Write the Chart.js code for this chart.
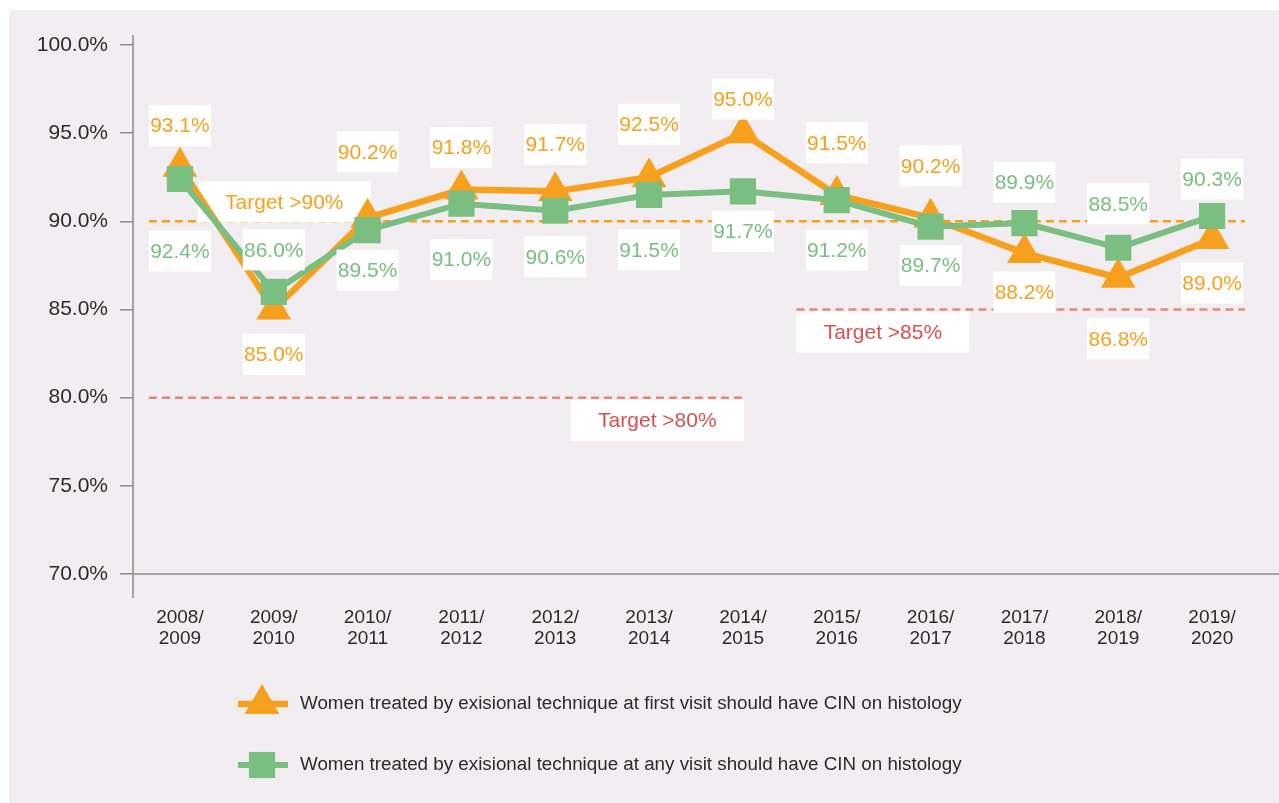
<!DOCTYPE html>
<html>
<head>
<meta charset="utf-8">
<title>CIN on histology</title>
<script src="https://cdn.jsdelivr.net/npm/chart.js"></script>
<style>
  html, body { margin: 0; padding: 0; background: #ffffff; }
  #panel { position: absolute; left: 9px; top: 10px; right: 0; bottom: 0; background: #f2edf0; }
  #wrap { position: absolute; left: 0; top: 0; width: 1279px; height: 803px; }
</style>
</head>
<body>
<div id="panel"></div>
<div id="wrap"><canvas id="cinChart" width="1279" height="803"></canvas></div>
<script>
// Data
const categories = [
  ['2008/', '2009'], ['2009/', '2010'], ['2010/', '2011'], ['2011/', '2012'],
  ['2012/', '2013'], ['2013/', '2014'], ['2014/', '2015'], ['2015/', '2016'],
  ['2016/', '2017'], ['2017/', '2018'], ['2018/', '2019'], ['2019/', '2020']
];
const firstVisit = [93.1, 85.0, 90.2, 91.8, 91.7, 92.5, 95.0, 91.5, 90.2, 88.2, 86.8, 89.0];
const anyVisit = [92.4, 86.0, 89.5, 91.0, 90.6, 91.5, 91.7, 91.2, 89.7, 89.9, 88.5, 90.3];
const seriesNames = [
  'Women treated by exisional technique at first visit should have CIN on histology',
  'Women treated by exisional technique at any visit should have CIN on histology'
];
const yMin = 70;
const yMax = 100;
const yStep = 5;
const targetValues = [90, 80, 85];
const targetLabels = ['Target >90%', 'Target >80%', 'Target >85%'];

const ORANGE = '#f7a01d';
const GREEN = '#7bbe81';
const RED_LINE = '#e5877a';
const RED_TEXT = '#d5524f';
const TEXT = '#2b2b2b';
const AXIS = '#8c8c8c';
const FONT = '"Liberation Sans", Arial, sans-serif';

// label offsets (px) from each point, set by eye
const labelOffsets = [
  [-41, 45, -66, -42, -47, -53, -34, -52, -52, 39, 61, 44],
  [72, -42, 40, 56, 46, 55, 40, 50, 39, -41, -44, -37]
];

// target line layout in category units
const targetLayout = [
  { line: ORANGE, text: ORANGE, from: -0.33, to: 11.35, boxAt: 0.19, align: 'left', above: true },
  { line: RED_LINE, text: RED_TEXT, from: -0.33, to: 6.01, boxAt: 6.01, align: 'right', above: false },
  { line: RED_LINE, text: RED_TEXT, from: 6.57, to: 11.35, boxAt: 6.57, align: 'left', above: false }
];

function drawMarker(ctx, style, x, y, r, color) {
  ctx.fillStyle = color;
  ctx.beginPath();
  if (style === 'triangle') {
    for (let k = 0; k < 3; k++) {
      const a = k * 2 * Math.PI / 3;
      const px = x + Math.sin(a) * r;
      const py = y - Math.cos(a) * r;
      if (k === 0) ctx.moveTo(px, py); else ctx.lineTo(px, py);
    }
    ctx.closePath();
  } else {
    const s = r * Math.SQRT1_2;
    ctx.rect(x - s, y - s, 2 * s, 2 * s);
  }
  ctx.fill();
}

const decorPlugin = {
  id: 'decor',
  beforeDatasetsDraw(chart) {
    const { ctx, chartArea, scales } = chart;
    const xs = scales.x, ys = scales.y;
    ctx.save();
    // axis lines
    ctx.strokeStyle = AXIS;
    ctx.lineWidth = 1.5;
    ctx.beginPath();
    ctx.moveTo(chartArea.left, chartArea.top - 10);
    ctx.lineTo(chartArea.left, chartArea.bottom + 24);
    ctx.moveTo(chartArea.left, chartArea.bottom);
    ctx.lineTo(chart.width, chartArea.bottom);
    ctx.stroke();

    // target lines and boxes
    targetValues.forEach((v, i) => {
      const t = targetLayout[i];
      const y = ys.getPixelForValue(v);
      ctx.strokeStyle = t.line;
      ctx.lineWidth = 2.5;
      ctx.setLineDash([8, 5]);
      ctx.beginPath();
      ctx.moveTo(xs.getPixelForValue(t.from), y);
      ctx.lineTo(xs.getPixelForValue(t.to), y);
      ctx.stroke();
      ctx.setLineDash([]);

      const w = 173, h = 41;
      const ax = xs.getPixelForValue(t.boxAt);
      const bx = t.align === 'left' ? ax : ax - w;
      const by = t.above ? y - h + 1 : y + 2;
      ctx.fillStyle = '#ffffff';
      ctx.fillRect(bx, by, w, h);
      ctx.fillStyle = t.text;
      ctx.font = '21px ' + FONT;
      ctx.textAlign = 'center';
      ctx.textBaseline = 'middle';
      ctx.fillText(targetLabels[i], bx + w / 2, by + h / 2 + 1);
    });
    ctx.restore();
  },
  afterDatasetsDraw(chart) {
    const { ctx, scales } = chart;
    const ys = scales.y;
    ctx.save();
    ctx.font = '21px ' + FONT;
    ctx.textAlign = 'center';
    ctx.textBaseline = 'middle';
    chart.data.datasets.forEach((ds, di) => {
      const meta = chart.getDatasetMeta(di);
      ds.data.forEach((v, i) => {
        const x = meta.data[i].x;
        const y = ys.getPixelForValue(v) + labelOffsets[di][i];
        const w = 62, h = 41;
        ctx.fillStyle = '#ffffff';
        ctx.fillRect(x - w / 2, y - h / 2, w, h);
        ctx.fillStyle = ds.borderColor;
        ctx.fillText(v.toFixed(1) + '%', x, y + 1);
      });
    });
    ctx.restore();
  },
  afterDraw(chart) {
    const { ctx } = chart;
    ctx.save();
    const rows = [704, 765];
    chart.data.datasets.forEach((ds, di) => {
      const y = rows[di];
      ctx.strokeStyle = ds.borderColor;
      ctx.lineWidth = ds.borderWidth;
      ctx.beginPath();
      ctx.moveTo(238, y);
      ctx.lineTo(288, y);
      ctx.stroke();
      drawMarker(ctx, ds.pointStyle, 262, y, ds.pointRadius, ds.borderColor);
      ctx.fillStyle = TEXT;
      ctx.font = '18.8px ' + FONT;
      ctx.textAlign = 'left';
      ctx.textBaseline = 'middle';
      ctx.fillText(ds.label, 300, y);
    });
    ctx.restore();
  }
};

new Chart(document.getElementById('cinChart'), {
  type: 'line',
  data: {
    labels: categories,
    datasets: [
      {
        label: seriesNames[0],
        data: firstVisit,
        borderColor: ORANGE,
        backgroundColor: ORANGE,
        borderWidth: 6.5,
        pointStyle: 'triangle',
        pointRadius: 20,
        pointBorderWidth: 0,
        pointBackgroundColor: ORANGE,
        tension: 0,
        order: 2
      },
      {
        label: seriesNames[1],
        data: anyVisit,
        borderColor: GREEN,
        backgroundColor: GREEN,
        borderWidth: 6,
        pointStyle: 'rect',
        pointRadius: 18.5,
        pointBorderWidth: 0,
        pointBackgroundColor: GREEN,
        tension: 0,
        order: 1
      }
    ]
  },
  options: {
    responsive: false,
    devicePixelRatio: 1,
    animation: false,
    layout: { padding: { left: 0, right: 4, top: 45, bottom: 0 } },
    plugins: {
      legend: { display: false },
      tooltip: { enabled: false }
    },
    scales: {
      x: {
        type: 'category',
        offset: true,
        grid: { display: false, drawTicks: false },
        border: { display: false },
        ticks: {
          color: TEXT,
          font: { family: FONT, size: 19, lineHeight: 1.1 },
          padding: 33,
          maxRotation: 0,
          autoSkip: false
        },
        afterFit: s => { s.height = 229; }
      },
      y: {
        min: yMin,
        max: yMax,
        grid: { display: true, drawOnChartArea: false, drawTicks: true, tickLength: 13, color: AXIS, lineWidth: 1.5 },
        border: { display: false },
        ticks: {
          stepSize: yStep,
          color: TEXT,
          font: { family: FONT, size: 21 },
          padding: 12,
          callback: v => v.toFixed(1) + '%'
        },
        afterFit: s => { s.width = 133; }
      }
    }
  },
  plugins: [decorPlugin]
});
</script>
</body>
</html>
